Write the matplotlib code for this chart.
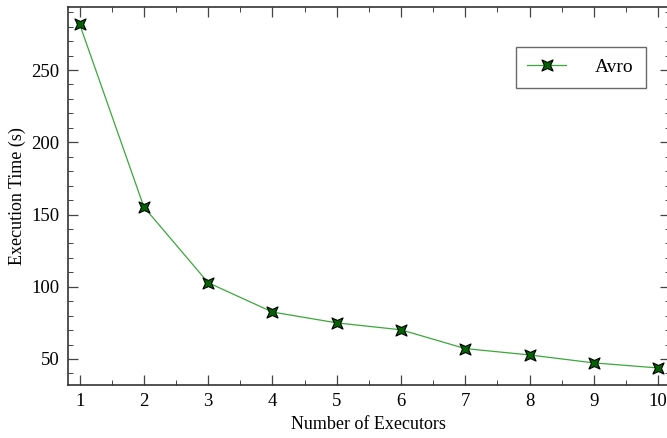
import matplotlib
matplotlib.use("Agg")
import matplotlib.pyplot as plt
from matplotlib.path import Path
from matplotlib.ticker import MultipleLocator

executors = [1, 2, 3, 4, 5, 6, 7, 8, 9, 10]
avro_time = [281.8, 155.2, 102.8, 82.5, 75.0, 70.2, 57.2, 52.8, 47.3, 43.8]
series_label = "Avro"

plt.rcParams['font.family'] = ['Liberation Serif', 'DejaVu Serif']

# four-pointed star with concave sides
k = 0.55
star = Path([(1, 1), (0, k), (-1, 1), (-k, 0), (-1, -1), (0, -k), (1, -1), (k, 0), (1, 1)],
            [Path.MOVETO] + [Path.LINETO] * 7 + [Path.CLOSEPOLY])

fig = plt.figure(figsize=(6.67, 4.38), dpi=100)
ax = fig.add_axes([0.102, 0.121, 0.902, 0.863])

ax.plot(executors, avro_time, color='#3aa83a', lw=0.9,
        marker=star, markersize=8, markerfacecolor='#006400',
        markeredgecolor='black', markeredgewidth=0.8, label=series_label)

ax.set_xlim(0.82, 10.18)
ax.set_ylim(32, 293.6)
ax.xaxis.set_major_locator(MultipleLocator(1))
ax.xaxis.set_minor_locator(MultipleLocator(0.5))
ax.yaxis.set_major_locator(MultipleLocator(50))
ax.yaxis.set_minor_locator(MultipleLocator(10))
ax.tick_params(which='both', direction='in', top=True, right=True,
               colors='#444444', labelcolor='black', labelsize=13.5)
ax.tick_params(which='major', length=7, width=0.9, pad=6)
ax.tick_params(which='minor', length=3.5, width=0.7)
for s in ax.spines.values():
    s.set_color('#333333')
    s.set_linewidth(1.2)

ax.set_xlabel("Number of Executors", fontsize=13)
ax.set_ylabel("Execution Time (s)", fontsize=13)

leg = ax.legend(loc='upper right', bbox_to_anchor=(0.96, 0.895), fontsize=14,
                fancybox=False, shadow=False, edgecolor='#444444',
                handlelength=2.0, borderpad=0.6, handletextpad=1.5,
                borderaxespad=0.0)
leg.get_frame().set_linewidth(1.0)

fig.savefig("out.png", dpi=100)
